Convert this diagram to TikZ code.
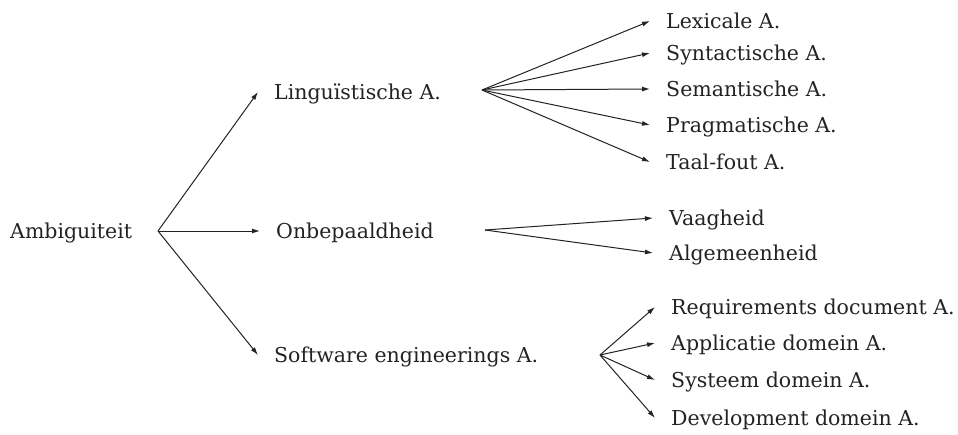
\documentclass[tikz,border=0pt]{standalone}
\usepackage{fontspec}
\setmainfont{DejaVu Serif}
\usepackage{tikz}
\usetikzlibrary{arrows.meta,positioning}
\definecolor{inkgray}{RGB}{35,35,35}

\begin{document}
\begin{tikzpicture}[
  x=1pt,y=-1pt,
  arr/.style={-{Latex[length=8pt,width=5pt]},line width=1pt,draw=inkgray},
  rootlbl/.style={anchor=west,inner sep=0pt,font=\fontsize{20.5}{24}\selectfont,text=inkgray,text height=15pt,text depth=0pt},
  lbl/.style={rootlbl,inner xsep=16pt}
]
  \useasboundingbox (0,0) rectangle (958,434);

  \node[rootlbl] (amb) at (10,231) {Ambiguiteit};

  \coordinate (fRoot) at (158,231);
  \coordinate (fLing) at (482,90);
  \coordinate (fOnb) at (485,230);
  \coordinate (fSoft) at (600,355);

  \node[lbl] (ling) at (258,92) {Linguïstische A.};
  \node[lbl] (onb) at (260,231) {Onbepaaldheid};
  \node[lbl] (soft) at (258,355) {Software engineerings A.};

  \foreach \n in {ling,onb,soft}{
    \draw[arr] (fRoot) -- (\n.west);
  }

  \foreach \y/\lab/\n in {21/Lexicale A./lex,53/Syntactische A./syn,89/Semantische A./sem,125/Pragmatische A./prag,162/Taal-fout A./taal}{
    \node[lbl] (\n) at (650,\y) {\lab};
    \draw[arr] (fLing) -- (\n.west);
  }

  \foreach \y/\lab/\n in {218/Vaagheid/vaag,253/Algemeenheid/alg}{
    \node[lbl] (\n) at (653,\y) {\lab};
    \draw[arr] (fOnb) -- (\n.west);
  }

  \foreach \y/\lab/\n in {307/Requirements document A./req,343/Applicatie domein A./app,380/Systeem domein A./sys,418/Development domein A./dev}{
    \node[lbl] (\n) at (655,\y) {\lab};
    \draw[arr] (fSoft) -- (\n.west);
  }
\end{tikzpicture}
\end{document}
